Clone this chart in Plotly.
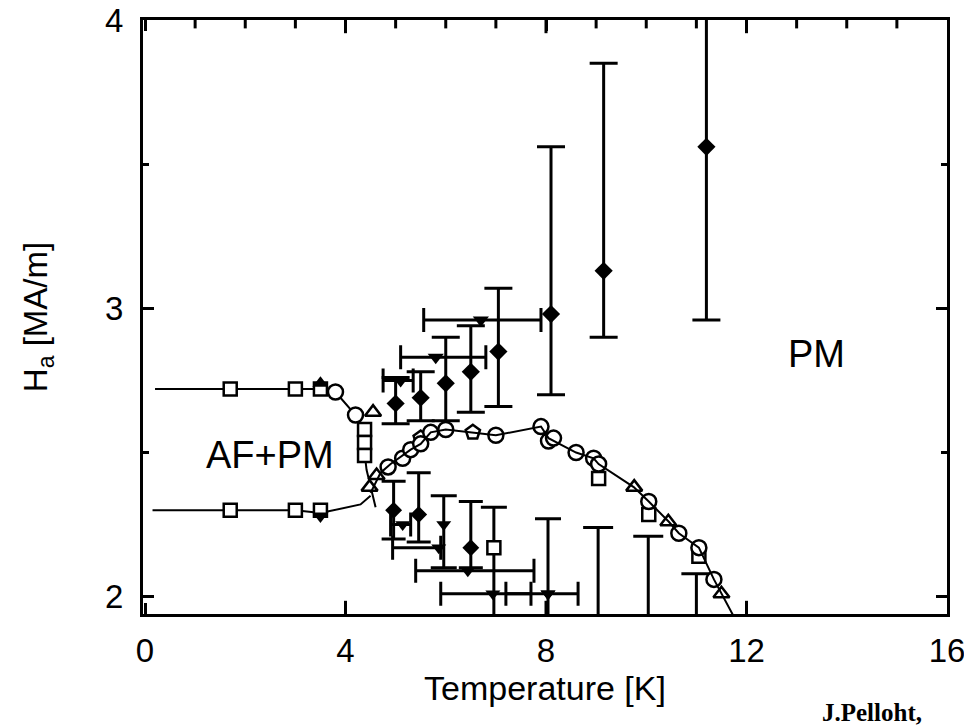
import plotly.graph_objects as go

FONT = "Liberation Sans"

# ---------------- data ----------------
bnd_upper_T = [0.2, 1.7, 3.0, 3.5, 3.8, 4.2, 4.38, 4.38, 4.42, 4.5, 4.6]
bnd_upper_H = [2.72, 2.72, 2.72, 2.72, 2.71, 2.63, 2.58, 2.50, 2.44, 2.38, 2.31]
bnd_lower_T = [0.15, 1.7, 3.0, 3.5, 4.3, 4.5]
bnd_lower_H = [2.30, 2.30, 2.30, 2.29, 2.32, 2.35]
dome_T = [4.5, 4.7, 4.9, 5.14, 5.3, 5.5, 5.7, 6.0, 6.5, 7.0, 7.9, 8.05, 8.6, 8.95, 9.05,
          9.75, 10.05, 10.45, 10.65, 11.05, 11.35, 11.5, 11.75]
dome_H = [2.36, 2.43, 2.46, 2.49, 2.51, 2.53, 2.57, 2.58, 2.57, 2.56, 2.59, 2.55, 2.50, 2.48, 2.46,
          2.38, 2.33, 2.26, 2.22, 2.17, 2.06, 2.01, 1.93]

circ_T = [3.8, 4.2, 4.85, 5.14, 5.3, 5.5, 5.7, 6.0, 7.0, 7.9, 8.05, 8.15, 8.6, 8.95, 9.05,
          10.05, 10.65, 11.05, 11.35]
circ_H = [2.71, 2.63, 2.45, 2.48, 2.51, 2.53, 2.57, 2.58, 2.56, 2.59, 2.54, 2.55, 2.50, 2.48, 2.46,
          2.33, 2.22, 2.17, 2.06]
sq_T = [1.7, 3.0, 3.5, 1.7, 3.0, 3.5, 4.38, 4.38, 4.38, 9.05, 10.05, 11.05]
sq_H = [2.72, 2.72, 2.72, 2.30, 2.30, 2.30, 2.58, 2.535, 2.49, 2.41, 2.285, 2.14]
tri_T = [4.55, 4.48, 4.62, 9.76, 10.44, 11.5]
tri_H = [2.64, 2.38, 2.42, 2.38, 2.26, 2.01]
pent_T = [6.54, 5.5]
pent_H = [2.57, 2.55]

ftu_T = [3.5]
ftu_H = [2.74]
ftd_T = [3.5]
ftd_H = [2.28]

up_T = [5.0, 5.5, 6.0, 6.5, 7.05, 8.1, 9.15, 11.2]
up_H = [2.67, 2.69, 2.74, 2.78, 2.85, 2.98, 3.13, 3.56]
up_hi = [2.76, 2.78, 2.90, 2.94, 3.07, 3.56, 3.85, 4.30]
up_lo = [2.60, 2.61, 2.61, 2.64, 2.66, 2.70, 2.90, 2.96]

upd_T = [5.1, 5.8, 6.7]
upd_H = [2.75, 2.83, 2.96]
upd_Tlo = [4.75, 5.1, 5.56]
upd_Thi = [5.35, 6.8, 7.9]

lo_T = [4.96, 5.46, 6.5]
lo_H = [2.30, 2.285, 2.17]
lo_hi = [2.40, 2.43, 2.33]
lo_lo = [2.20, 2.19, 2.10]

lod_T = [5.14, 5.86, 6.44, 6.94, 8.04]
lod_H = [2.25, 2.17, 2.09, 2.01, 2.01]
lod_Tlo = [4.9, 4.94, 5.4, 5.9, 7.2]
lod_Thi = [5.3, 5.9, 7.76, 7.7, 8.64]

lodv_T = [5.96, 8.04]
lodv_H = [2.25, 2.01]
lodv_hi = [2.35, 2.27]
lodv_lo = [2.10, 1.85]

osq_T = [6.96]
osq_H = [2.17]
osq_hi = [2.31]
osq_lo = [1.80]

off_T = [9.04, 10.04, 11.0]
off_H = [1.80, 1.80, 1.80]
off_hi = [2.24, 2.21, 2.08]

# axis ticks
x_major = [4, 8, 12]
x_minor = [1, 2, 3, 5, 6, 7, 9, 10, 11, 13, 14, 15]

XR = [-0.04, 16]
YR = [1.94, 4.0]

# ---------------- figure ----------------
fig = go.Figure()

LINE = dict(color="black", width=2)
for tx, hy in [(bnd_upper_T, bnd_upper_H), (bnd_lower_T, bnd_lower_H)]:
    fig.add_trace(go.Scatter(x=tx, y=hy, mode="lines", line=LINE, hoverinfo="skip"))
fig.add_trace(go.Scatter(x=dome_T, y=dome_H, mode="lines", line=LINE, hoverinfo="skip",
                         xaxis="x3"))


def errs(vals, hi, lo):
    return ([h - v for h, v in zip(hi, vals)], [v - l for v, l in zip(vals, lo)])


EB = dict(color="black", thickness=3)

p, m = errs(up_H, up_hi, up_lo)
fig.add_trace(go.Scatter(x=up_T, y=up_H, mode="markers",
                         marker=dict(symbol="diamond", size=14, color="black"),
                         error_y=dict(type="data", symmetric=False, array=p, arrayminus=m,
                                      width=14, **EB)))
p, m = errs(upd_T, upd_Thi, upd_Tlo)
fig.add_trace(go.Scatter(x=upd_T, y=upd_H, mode="markers",
                         marker=dict(symbol="triangle-down", size=14, color="black"),
                         error_x=dict(type="data", symmetric=False, array=p, arrayminus=m,
                                      width=12, **EB)))
p, m = errs(lo_H, lo_hi, lo_lo)
fig.add_trace(go.Scatter(x=lo_T, y=lo_H, mode="markers",
                         marker=dict(symbol="diamond", size=13, color="black"),
                         error_y=dict(type="data", symmetric=False, array=p, arrayminus=m,
                                      width=12, **EB)))
p, m = errs(lod_T, lod_Thi, lod_Tlo)
fig.add_trace(go.Scatter(x=lod_T, y=lod_H, mode="markers",
                         marker=dict(symbol="triangle-down", size=13, color="black"),
                         error_x=dict(type="data", symmetric=False, array=p, arrayminus=m,
                                      width=12, **EB)))
p, m = errs(lodv_H, lodv_hi, lodv_lo)
fig.add_trace(go.Scatter(x=lodv_T, y=lodv_H, mode="markers",
                         marker=dict(symbol="triangle-down", size=13, color="black"),
                         error_y=dict(type="data", symmetric=False, array=p, arrayminus=m,
                                      width=13, **EB)))
p, m = errs(osq_H, osq_hi, osq_lo)
fig.add_trace(go.Scatter(x=osq_T, y=osq_H, mode="markers",
                         marker=dict(symbol="square", size=13, color="white",
                                     line=dict(color="black", width=2.5)),
                         error_y=dict(type="data", symmetric=False, array=p, arrayminus=m,
                                      width=13, **EB)))
fig.add_trace(go.Scatter(x=off_T, y=off_H, mode="markers",
                         marker=dict(symbol="diamond", size=12, color="black"),
                         error_y=dict(type="data", symmetric=False,
                                      array=[h - v for h, v in zip(off_hi, off_H)],
                                      arrayminus=[0, 0, 0], width=15, **EB)))

OPEN = lambda sym, size: dict(symbol=sym, size=size, color="white",
                              line=dict(color="black", width=2.5))
fig.add_trace(go.Scatter(x=sq_T, y=sq_H, mode="markers", marker=OPEN("square", 13)))
fig.add_trace(go.Scatter(x=tri_T, y=tri_H, mode="markers", marker=OPEN("triangle-up", 14)))
fig.add_trace(go.Scatter(x=pent_T, y=pent_H, mode="markers", marker=OPEN("pentagon", 15)))
fig.add_trace(go.Scatter(x=circ_T, y=circ_H, mode="markers", marker=OPEN("circle", 15)))
fig.add_trace(go.Scatter(x=ftu_T, y=ftu_H, mode="markers",
                         marker=dict(symbol="triangle-up", size=14, color="black")))
fig.add_trace(go.Scatter(x=ftd_T, y=ftd_H, mode="markers",
                         marker=dict(symbol="triangle-down", size=14, color="black")))

# inward x tick marks drawn as short vertical line markers on the frame
PLOT_H = 728 - 20 - 114
UNIT = (YR[1] - YR[0]) / PLOT_H          # data units per pixel
MAJ_LEN, MIN_LEN = 11, 7
TICKMARK = lambda n: dict(symbol="line-ns", size=n, color="black",
                          line=dict(color="black", width=3))
fig.add_trace(go.Scatter(x=x_major, y=[YR[0] + UNIT * MAJ_LEN / 2] * len(x_major),
                         mode="markers", marker=TICKMARK(MAJ_LEN), cliponaxis=False,
                         hoverinfo="skip"))
fig.add_trace(go.Scatter(x=x_major, y=[YR[1] - UNIT * MAJ_LEN / 2] * len(x_major),
                         mode="markers", marker=TICKMARK(MAJ_LEN), cliponaxis=False,
                         hoverinfo="skip"))
fig.add_trace(go.Scatter(x=x_minor, y=[YR[1] - UNIT * MIN_LEN / 2] * len(x_minor),
                         mode="markers", marker=TICKMARK(MIN_LEN), cliponaxis=False,
                         hoverinfo="skip"))

fig.add_annotation(x=2.5, y=2.49, text="AF+PM", showarrow=False,
                   font=dict(family=FONT, size=38, color="black"))
fig.add_annotation(x=13.4, y=2.84, text="PM", showarrow=False,
                   font=dict(family=FONT, size=38, color="black"))
fig.add_annotation(x=0.842, y=-0.165, xref="paper", yref="paper", text="<b>J.Pelloht,</b>",
                   showarrow=False, xanchor="left", yanchor="middle",
                   font=dict(family="Liberation Serif", size=25, color="black"))

BIG = dict(family=FONT, size=33, color="black")

fig.update_layout(
    xaxis=dict(range=XR, tickmode="linear", tick0=0, dtick=4, showticklabels=False,
               ticks="inside", ticklen=11, tickwidth=3, tickcolor="black",
               showline=True, linecolor="black", linewidth=3, mirror="ticks",
               showgrid=False, zeroline=False),
    xaxis3=dict(range=XR, overlaying="x", side="bottom", anchor="y",
                tickmode="linear", tick0=0, dtick=4, ticks="", showline=False,
                showgrid=False, zeroline=False, tickfont=BIG, ticklabeloverflow="allow",
                ticklabelstandoff=14,
                title=dict(text="Temperature [K]",
                           font=dict(family=FONT, size=34, color="black"), standoff=6)),
    yaxis=dict(range=YR, tickmode="linear", tick0=2, dtick=1,
               ticks="inside", ticklen=11, tickwidth=3, tickcolor="black",
               minor=dict(dtick=0.5, tick0=2, ticks="inside", ticklen=6, tickwidth=3,
                          tickcolor="black", showgrid=False),
               showline=True, linecolor="black", linewidth=3, mirror="ticks",
               showgrid=False, zeroline=False, tickfont=BIG,
               title=dict(text="H<sub>a</sub> [MA/m]",
                          font=dict(family=FONT, size=33, color="black"), standoff=48),
               ticklabelstandoff=10),
)

fig.update_layout(width=964, height=728, showlegend=False,
                  margin=dict(l=143, r=17, t=20, b=114, autoexpand=False),
                  paper_bgcolor="white", plot_bgcolor="white")

fig.write_html("out.html")
